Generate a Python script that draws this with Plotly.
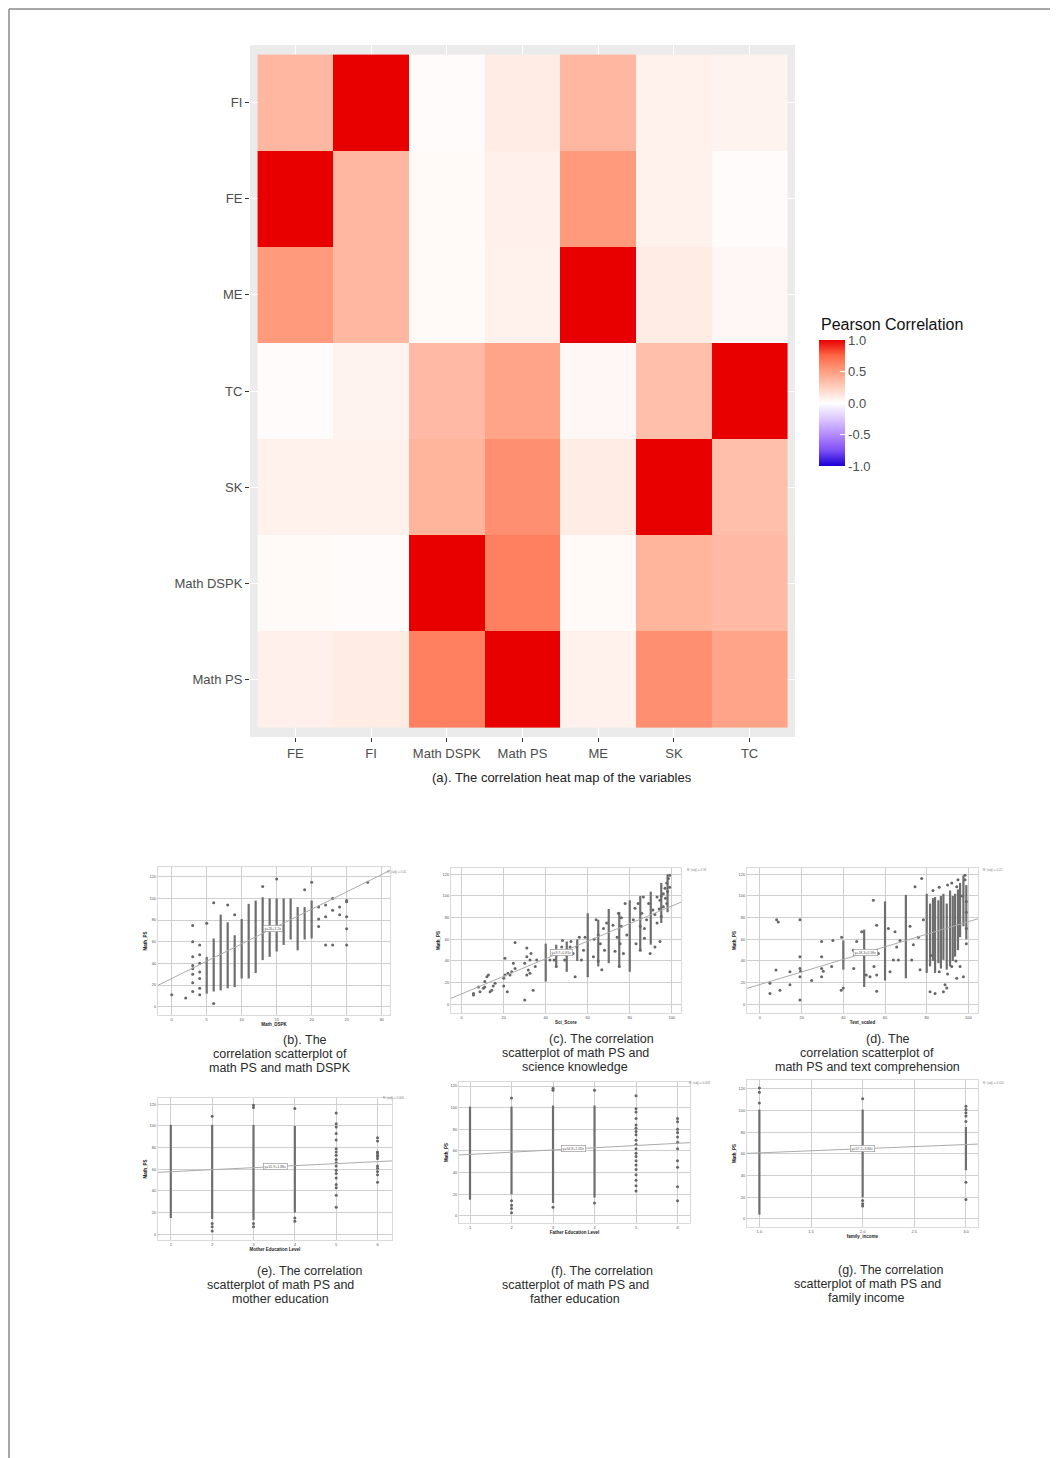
import plotly.graph_objects as go

W, H = 1058, 1458          # browser window
OFF = 8                    # default body margin of the page
PW, PH = W - OFF, H - OFF  # figure size so it fits the window
FONT = "Liberation Sans"

# ---------------- heat map data ----------------
hm_vars = ["FE", "FI", "Math DSPK", "Math PS", "ME", "SK", "TC"]
hm_rows = ["Math PS", "Math DSPK", "SK", "TC", "ME", "FE", "FI"]  # bottom -> top
corr_FE = [1.00, 0.37, 0.03, 0.08, 0.52, 0.07, 0.02]
corr_FI = [0.37, 1.00, 0.02, 0.10, 0.37, 0.07, 0.06]
corr_MDSPK = [0.03, 0.02, 1.00, 0.64, 0.03, 0.39, 0.36]
corr_MPS = [0.08, 0.10, 0.64, 1.00, 0.07, 0.57, 0.47]
corr_ME = [0.52, 0.37, 0.03, 0.07, 1.00, 0.10, 0.04]
corr_SK = [0.07, 0.07, 0.39, 0.57, 0.10, 1.00, 0.33]
corr_TC = [0.02, 0.06, 0.36, 0.47, 0.04, 0.33, 1.00]
corr_rows = {"FE": corr_FE, "FI": corr_FI, "Math DSPK": corr_MDSPK, "Math PS": corr_MPS,
             "ME": corr_ME, "SK": corr_SK, "TC": corr_TC}
legend_ticks = [-1.0, -0.5, 0.0, 0.5, 1.0]
legend_labels = ["-1.0", "-0.5", "0.0", "0.5", "1.0"]

# ---------------- scatter data ----------------
y_ticks = [0, 20, 40, 60, 80, 100, 120]

# (b) Math_DSPK
b_xticks = [0, 5, 10, 15, 20, 25, 30]
b_strip_x = [5, 6, 7, 8, 9, 10, 11, 12, 13, 14, 15, 16, 17, 18, 19, 20]
b_strip_lo = [12, 14, 15, 17, 18, 26, 26, 31, 43, 46, 51, 57, 62, 52, 62, 63]
b_strip_hi = [46, 63, 85, 78, 66, 81, 95, 98, 101, 100, 100, 100, 100, 92, 92, 98]
b_pt_x = [0, 2, 3, 3, 3, 3, 3, 3, 3, 3, 4, 4, 4, 4, 4, 4, 4, 5, 6, 6, 8, 9, 13, 15, 19, 20,
          21, 21, 21, 22, 22, 22, 23, 23, 23, 24, 24, 25, 25, 25, 25, 25, 28]
b_pt_y = [11, 8, 75, 60, 46, 38, 35, 30, 22, 14, 57, 48, 40, 32, 26, 17, 11, 77, 96, 3, 94, 85, 111, 118, 108, 115,
          92, 81, 74, 94, 83, 57, 100, 89, 57, 92, 85, 98, 97, 83, 72, 57, 115]
b_fit = [26.0, 3.2]

# (c) Sci_Score
c_xticks = [0, 20, 40, 60, 80, 100]
c_strip_x = [40, 45, 50, 55, 60, 65, 70, 75, 80, 85, 90, 95, 98]
c_strip_lo = [21, 35, 30, 40, 25, 35, 38, 35, 30, 50, 55, 75, 85]
c_strip_hi = [56, 55, 58, 60, 84, 78, 88, 85, 96, 100, 104, 112, 120]
c_pt_x = [5.6, 5.6, 8.7, 10.3, 11, 12, 12.7, 14.3, 15, 13.5, 15.9, 11, 8,
          20, 20, 20.6, 20.6, 21.7, 22, 23, 23.8, 25.4, 25.4, 24.6,
          30, 30, 31, 31, 31.7, 32.5, 33, 34, 35, 35.7, 32.5, 31,
          42, 43.6, 44, 45, 47, 47.6, 48, 49, 51.6, 52, 53, 54, 54.8, 56, 57, 58, 58.7,
          62.7, 64, 65, 66, 66.7, 67.5, 68, 69, 65, 63,
          72, 73, 74, 74.6, 75.4, 76, 77, 77.8, 78.6, 75, 76,
          81.7, 82.5, 83, 84, 85, 85.7, 86.5, 87, 88, 89, 89.7, 91, 85, 87,
          93, 94.4, 95, 96, 96.8, 97.6, 98.4, 99, 96, 97.6, 94.4, 93, 92, 95, 98, 99, 97, 94, 92]
c_pt_y = [8.6, 10, 11.7, 14.8, 21, 25.5, 27, 13, 17, 11.7, 19.4, 16, 16,
          17, 24, 27, 42.5, 11.7, 28.6, 27, 30, 33, 57, 37.8,
          4, 38, 44, 52, 31.7, 41, 47, 13, 35, 41, 28.6, 27,
          41, 50, 41, 35, 47, 53, 59, 41, 53, 58, 47, 25.5, 53, 62, 41, 50, 62,
          44, 78, 64, 56, 32, 70, 50, 75, 40, 60,
          73, 49, 62, 84, 56, 72, 47, 93, 64, 35, 80,
          78, 88.6, 56, 93, 72, 84, 99, 61, 78, 93, 47, 87, 50, 70,
          99, 96, 81, 102, 107, 112, 116, 119, 90, 93, 58, 75, 53, 100, 104, 108, 98, 88, 83]
c_fit = [9.7, 0.81]

# (d) Text_scaled
d_xticks = [0, 20, 40, 60, 80, 100]
d_strip_x = [40, 50, 60, 70, 80, 81.6, 83, 84, 85.6, 86.8, 88, 89.6, 91.2, 92.5, 93.6, 95, 96, 97.6, 99]
d_strip_lo = [32, 16, 22, 24, 29, 35, 40, 29, 38, 33, 41, 32, 35, 40, 44, 50, 62, 72, 60]
d_strip_hi = [59, 69, 95, 101, 102, 93, 98, 99, 96, 100, 102, 93, 105, 100, 102, 106, 112, 119, 110]
d_pt_x = [4.8, 4.8, 8, 8.8, 7.7, 9.6, 14.4, 14.4, 19.2, 19.2, 19.2, 19.2, 19.2, 19.5, 24.8,
          29.6, 29.6, 29.6, 29.6, 30.4, 35, 34.4, 39.2, 39, 40,
          44.8, 46.4, 45, 48.8, 51, 52.8, 54.4, 54.7, 56, 56, 56, 56.8,
          61.6, 62.4, 64, 64.8, 65.6, 66.4, 67.2,
          72, 72.8, 73.6, 74.4, 76, 76.8, 77.6, 78.4,
          84, 88, 88.8, 89.6, 94.4, 98.4, 98.4, 99, 97.6, 94.4, 92, 96, 81.6,
          83, 86, 90, 92, 95, 97, 99, 82, 86, 90, 94, 99, 99]
d_pt_y = [19.4, 10, 78, 76, 31.7, 13, 30, 18, 78, 44, 33, 25.5, 4, 30.5, 22,
          58, 44, 33, 25.5, 30.5, 59, 35, 62, 13, 15,
          50, 58, 33, 67, 27, 25.5, 96, 35, 73, 27, 12, 47,
          70, 30, 41, 67, 53, 41, 59,
          72, 41, 55, 108.6, 62, 32, 116, 78,
          10, 11.7, 18, 15, 108.6, 119, 115, 56, 25.5, 24, 35, 35, 11.7,
          105, 108, 110, 112, 115, 100, 95, 45, 30, 28, 40, 70, 85]
d_fit = [18.3, 0.58]

# (e) Mother Education Level
e_xticks = [1, 2, 3, 4, 5, 6]
e_strip_x = [1, 2, 3, 4]
e_strip_lo = [15, 14, 13, 20]
e_strip_hi = [101, 101, 101, 100]
e_pt_x = [2, 2, 2, 2, 3, 3, 3, 3, 4, 4, 4] + [5] * 18 + [6] * 12
e_pt_y = [109, 10, 7, 3, 119, 117, 10, 7, 116, 15, 12,
          112, 102, 99, 93, 87, 79, 76, 73, 69, 66, 63, 59, 56, 52, 46, 43, 36, 25,
          89, 86, 76, 75, 73, 72, 70, 63, 61, 58, 55, 48]
e_fit = [55.9, 1.86]

# (f) Father Education Level
f_xticks = [1, 2, 3, 4, 5, 6]
f_strip_x = [1, 2, 3, 4]
f_strip_lo = [15, 20, 12, 17]
f_strip_hi = [101, 101, 102, 102]
f_pt_x = [2, 2, 2, 2, 2, 3, 3, 3, 4, 4] + [5] * 20 + [6] * 11
f_pt_y = [109, 14, 10, 7, 3, 118, 116, 8, 116, 12,
          111, 99, 96, 90, 84, 81, 78, 75, 70, 66, 62, 58, 55, 51, 47, 43, 38, 33, 28, 23,
          90, 87, 80, 77, 73, 68, 62, 51, 45, 27, 14]
f_fit = [54.8, 2.05]

# (g) family income
g_xticks = [1.0, 1.5, 2.0, 2.5, 3.0]
g_xticklabels = ["1.0", "1.5", "2.0", "2.5", "3.0"]
g_strip_x = [1, 2, 3]
g_strip_lo = [4, 20, 45]
g_strip_hi = [101, 101, 85]
g_pt_x = [1, 1, 1, 2, 2, 2, 2, 3, 3, 3, 3, 3, 3, 3]
g_pt_y = [121, 117, 107, 111, 17, 14, 12, 104, 101, 98, 95, 90, 34, 18]
g_fit = [57.2, 3.84]


# ---------------- figure ----------------
def fx(p):
    return (p - OFF) / PW


def fy(p):
    return 1 - (p - OFF) / PH


fig = go.Figure()

z = [[corr_rows[r][hm_vars.index(c)] for c in hm_vars] for r in hm_rows]
colorscale = [
    [0.0, "#1A00D6"], [0.125, "#7E51F5"], [0.25, "#B38BFF"], [0.375, "#DCC8FF"],
    [0.5, "#FFFFFF"], [0.625, "#FFCFBF"], [0.75, "#FF9E81"], [0.875, "#FF6846"], [1.0, "#E80000"],
]
fig.add_trace(go.Heatmap(
    z=z, x=list(range(len(hm_vars))), y=list(range(len(hm_rows))),
    zmin=-1, zmax=1, colorscale=colorscale, xaxis="x", yaxis="y",
    colorbar=dict(x=fx(819), xanchor="left", y=fy(403), yanchor="middle",
                  len=126, lenmode="pixels", thickness=26, thicknessmode="pixels",
                  outlinewidth=0, xpad=0, ypad=0,
                  tickvals=legend_ticks, ticktext=legend_labels, ticks="inside",
                  ticklen=5, tickcolor="white", tickwidth=1,
                  tickfont=dict(family=FONT, size=13, color="#4D4D4D")),
))

layout = dict(
    width=PW, height=PH, margin=dict(l=0, r=0, t=0, b=0),
    paper_bgcolor="white", plot_bgcolor="white", showlegend=False,
    xaxis=dict(domain=[fx(250), fx(795)], range=[-0.6, 6.6], anchor="y",
               tickvals=list(range(7)), ticktext=hm_vars, ticks="outside", ticklen=4,
               tickcolor="#333333", tickfont=dict(family=FONT, size=13, color="#4D4D4D"),
               showgrid=True, gridcolor="white", gridwidth=1.2, zeroline=False, showline=False),
    yaxis=dict(domain=[fy(737), fy(45)], range=[-0.6, 6.6], anchor="x",
               tickvals=list(range(7)), ticktext=hm_rows, ticks="outside", ticklen=4,
               tickcolor="#333333", tickfont=dict(family=FONT, size=13, color="#4D4D4D"),
               showgrid=True, gridcolor="white", gridwidth=1.2, zeroline=False, showline=False),
)

shapes = [
    dict(type="rect", xref="x domain", yref="y domain", x0=0, x1=1, y0=0, y1=1,
         fillcolor="#EBEBEB", line=dict(width=0), layer="below"),
    dict(type="line", xref="paper", yref="paper", x0=fx(9), x1=1, y0=fy(9), y1=fy(9),
         line=dict(color="#8A8A8A", width=1.5)),
    dict(type="line", xref="paper", yref="paper", x0=fx(9), x1=fx(9), y0=fy(9), y1=0,
         line=dict(color="#8A8A8A", width=1.5)),
]

annotations = [
    dict(text="Pearson Correlation", x=fx(819), y=fy(324), xref="paper", yref="paper",
         xanchor="left", yanchor="middle", showarrow=False,
         font=dict(family=FONT, size=16, color="#111111")),
    dict(text="(a). The correlation heat map of the variables", x=fx(562), y=fy(777),
         xref="paper", yref="paper", xanchor="center", yanchor="middle", showarrow=False,
         font=dict(family=FONT, size=13, color="#222222")),
]

plots = [
    dict(n=2, xd=(158, 390), yd=(867, 1015), xr=(-1.96, 31.2), yr=(-7.7, 129), xt=b_xticks, xtt=None,
         title="Math_DSPK", strips=(b_strip_x, b_strip_lo, b_strip_hi), pts=(b_pt_x, b_pt_y),
         fit=b_fit, eqx=14.5, r2=(397, 872), r2t="R² (adj) = 0.41"),
    dict(n=3, xd=(451, 681), yd=(868, 1013), xr=(-5.1, 104.4), yr=(-8, 125.8), xt=c_xticks, xtt=None,
         title="Sci_Score", strips=(c_strip_x, c_strip_lo, c_strip_hi), pts=(c_pt_x, c_pt_y),
         fit=c_fit, eqx=47.6, r2=(697, 870), r2t="R² (adj) = 0.33"),
    dict(n=4, xd=(747, 978), yd=(868, 1013), xr=(-6.2, 104.6), yr=(-8, 125.8), xt=d_xticks, xtt=None,
         title="Text_scaled", strips=(d_strip_x, d_strip_lo, d_strip_hi), pts=(d_pt_x, d_pt_y),
         fit=d_fit, eqx=50.4, r2=(993, 870), r2t="R² (adj) = 0.22"),
    dict(n=5, xd=(158, 392), yd=(1098, 1240), xr=(0.69, 6.35), yr=(-5.3, 125.8), xt=e_xticks, xtt=None,
         title="Mother Education Level", strips=(e_strip_x, e_strip_lo, e_strip_hi), pts=(e_pt_x, e_pt_y),
         fit=e_fit, eqx=3.52, r2=(393, 1098), r2t="R² (adj) = 0.006"),
    dict(n=6, xd=(459, 690), yd=(1082, 1223), xr=(0.735, 6.30), yr=(-6.5, 123.7), xt=f_xticks, xtt=None,
         title="Father Education Level", strips=(f_strip_x, f_strip_lo, f_strip_hi), pts=(f_pt_x, f_pt_y),
         fit=f_fit, eqx=3.49, r2=(700, 1083), r2t="R² (adj) = 0.008"),
    dict(n=7, xd=(747, 978), yd=(1080, 1227), xr=(0.88, 3.117), yr=(-7.4, 128.3), xt=g_xticks, xtt=g_xticklabels,
         title="family_income", strips=(g_strip_x, g_strip_lo, g_strip_hi), pts=(g_pt_x, g_pt_y),
         fit=g_fit, eqx=2.0, r2=(993, 1083), r2t="R² (adj) = 0.010"),
]

PT_COLOR = "#666666"
for p in plots:
    n = p["n"]
    xa, ya = f"x{n}", f"y{n}"
    sx, slo, shi = p["strips"]
    lx, ly = [], []
    for xv, lo, hi in zip(sx, slo, shi):
        lx += [xv, xv, None]
        ly += [lo, hi, None]
    fig.add_trace(go.Scatter(x=lx, y=ly, mode="lines", line=dict(color="#6E6E6E", width=2.2),
                             xaxis=xa, yaxis=ya, hoverinfo="skip"))
    fig.add_trace(go.Scatter(x=p["pts"][0], y=p["pts"][1], mode="markers",
                             marker=dict(size=3, color=PT_COLOR), xaxis=xa, yaxis=ya))
    a, bslope = p["fit"]
    x0, x1 = p["xr"]
    fig.add_trace(go.Scatter(x=[x0, x1], y=[a + bslope * x0, a + bslope * x1], mode="lines",
                             line=dict(color="#ABABAB", width=1), xaxis=xa, yaxis=ya, hoverinfo="skip"))
    xaxis = dict(domain=[fx(p["xd"][0]), fx(p["xd"][1])], range=list(p["xr"]), anchor=ya,
                 tickvals=p["xt"], tickfont=dict(family=FONT, size=4, color="#555555"),
                 showgrid=True, gridcolor="#CFCFCF", gridwidth=0.8, zeroline=False,
                 showline=True, linecolor="#DADADA", linewidth=0.8, mirror=True, ticks="",
                 title=dict(text=p["title"], standoff=2,
                            font=dict(family=FONT, size=4.5, color="#222222", weight="bold")))
    if p["xtt"] is not None:
        xaxis["ticktext"] = p["xtt"]
    yaxis = dict(domain=[fy(p["yd"][1]), fy(p["yd"][0])], range=list(p["yr"]), anchor=xa,
                 tickvals=y_ticks, tickfont=dict(family=FONT, size=4, color="#555555"),
                 showgrid=True, gridcolor="#CFCFCF", gridwidth=0.8, zeroline=False,
                 showline=True, linecolor="#DADADA", linewidth=0.8, mirror=True, ticks="",
                 title=dict(text="Math_PS", standoff=2,
                            font=dict(family=FONT, size=4.5, color="#222222", weight="bold")))
    layout[f"xaxis{n}"] = xaxis
    layout[f"yaxis{n}"] = yaxis
    eqy = a + bslope * p["eqx"]
    annotations.append(dict(text=f"y={a:g}+{bslope:g}x", x=p["eqx"], y=eqy, xref=xa, yref=ya,
                            showarrow=False, bgcolor="white", bordercolor="#8A8A8A", borderwidth=0.6,
                            borderpad=1, font=dict(family=FONT, size=3.5, color="#555555")))
    annotations.append(dict(text=p["r2t"], x=fx(p["r2"][0]), y=fy(p["r2"][1]), xref="paper", yref="paper",
                            showarrow=False, xanchor="center", yanchor="middle",
                            font=dict(family=FONT, size=3, color="#888888")))

captions = [
    (305, 1040, "(b). The"), (280, 1054, "correlation scatterplot of"), (280, 1068, "math PS and math DSPK"),
    (601, 1039, "(c). The correlation"), (575, 1053, "scatterplot of math PS and"), (575, 1067, "science knowledge"),
    (888, 1039, "(d). The"), (867, 1053, "correlation scatterplot of"), (867, 1067, "math PS and text comprehension"),
    (309, 1271, "(e). The correlation"), (280, 1285, "scatterplot of math PS and"), (280, 1299, "mother education"),
    (602, 1271, "(f). The correlation"), (575, 1285, "scatterplot of math PS and"), (575, 1299, "father education"),
    (890, 1270, "(g). The correlation"), (867, 1284, "scatterplot of math PS and"), (866, 1298, "family income"),
]
for cx, cy, txt in captions:
    annotations.append(dict(text=txt, x=fx(cx), y=fy(cy), xref="paper", yref="paper", showarrow=False,
                            xanchor="center", yanchor="middle",
                            font=dict(family=FONT, size=12.5, color="#2A2A2A")))

layout["shapes"] = shapes
layout["annotations"] = annotations
fig.update_layout(**layout)
fig.write_html("out.html")
